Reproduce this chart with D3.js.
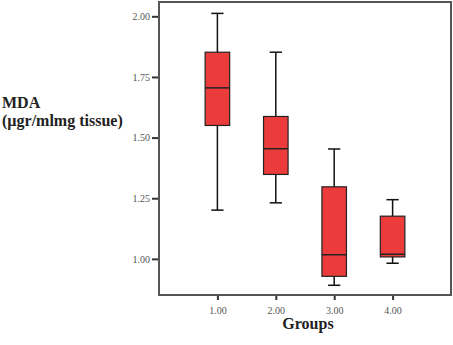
<!DOCTYPE html>
<html lang="en">
<head>
<meta charset="UTF-8">
<title>MDA boxplot</title>
<script src="https://cdn.jsdelivr.net/npm/d3@7/dist/d3.min.js"></script>
<style>
    body{margin:0;background:#fff;}
    svg{display:block;}
    .tick text{font-family:"Liberation Serif","DejaVu Serif",serif;font-size:10px;fill:#555;}
    .title{font-family:"Liberation Serif","DejaVu Serif",serif;font-size:16px;font-weight:bold;fill:#222;}
</style>
</head>
<body>
<svg width="453" height="345"></svg>
<script>
    // data
    var groups = [1, 2, 3, 4];
    var whiskerLow  = [1.201, 1.231, 0.891, 0.982];
    var q1          = [1.550, 1.348, 0.928, 1.008];
    var median      = [1.705, 1.454, 1.017, 1.019];
    var q3          = [1.852, 1.587, 1.297, 1.176];
    var whiskerHigh = [2.012, 1.852, 1.453, 1.244];
    var yTicks = [1.00, 1.25, 1.50, 1.75, 2.00];

    var svg = d3.select('svg'),
        margin = {top:2, right:2, bottom:50, left:159},
        width = +svg.attr('width') - margin.left - margin.right,
        height = +svg.attr('height') - margin.top - margin.bottom,
        g = svg.append('g').attr('transform','translate('+ margin.left +','+ margin.top +')');

    var x = d3.scaleLinear().domain([0,5]).range([0,width]);
    var y = d3.scaleLinear().domain([0.851,2.059]).range([height,0]);

    var boxW = x(0.42) - x(0),
        capW = x(0.21) - x(0);

    var data = groups.map(function(d,i){
        return {g:d, lo:whiskerLow[i], q1:q1[i], med:median[i], q3:q3[i], hi:whiskerHigh[i]};
    });

    // axes
    var yAxis = g.append('g')
        .call(d3.axisLeft(y).tickValues(yTicks).tickFormat(d3.format('.2f')).tickSize(7).tickPadding(2));
    var xAxis = g.append('g')
        .attr('transform','translate(0,'+ height +')')
        .call(d3.axisBottom(x).tickValues(groups).tickFormat(d3.format('.2f')).tickSize(5).tickPadding(7));
    [yAxis,xAxis].forEach(function(a){
        a.select('.domain').remove();
        a.selectAll('.tick line').attr('stroke','#333').attr('stroke-width',2);
    });

    // frame
    g.append('rect')
        .attr('x',0).attr('y',0)
        .attr('width',width).attr('height',height)
        .attr('fill','none').attr('stroke','#555').attr('stroke-width',2);

    var box = g.selectAll('.box').data(data).enter().append('g').attr('class','box');

    // whiskers
    box.append('line')
        .attr('x1',function(d){return x(d.g)}).attr('x2',function(d){return x(d.g)})
        .attr('y1',function(d){return y(d.lo)}).attr('y2',function(d){return y(d.hi)})
        .attr('stroke','#111').attr('stroke-width',1.5);
    ['lo','hi'].forEach(function(k){
        box.append('line')
            .attr('x1',function(d){return x(d.g) - capW/2}).attr('x2',function(d){return x(d.g) + capW/2})
            .attr('y1',function(d){return y(d[k])}).attr('y2',function(d){return y(d[k])})
            .attr('stroke','#111').attr('stroke-width',1.5);
    });

    // boxes
    box.append('rect')
        .attr('x',function(d){return x(d.g) - boxW/2})
        .attr('y',function(d){return y(d.q3)})
        .attr('width',boxW)
        .attr('height',function(d){return y(d.q1) - y(d.q3)})
        .attr('fill','#ec3b3b').attr('stroke','#222').attr('stroke-width',1.2);

    // medians
    box.append('line')
        .attr('x1',function(d){return x(d.g) - boxW/2}).attr('x2',function(d){return x(d.g) + boxW/2})
        .attr('y1',function(d){return y(d.med)}).attr('y2',function(d){return y(d.med)})
        .attr('stroke','#222').attr('stroke-width',1.5);

    // titles
    svg.append('text').attr('class','title')
        .attr('x',2).attr('y',108).text('MDA');
    svg.append('text').attr('class','title')
        .attr('x',2).attr('y',126).text('(\u00b5gr/mlmg tissue)');
    svg.append('text').attr('class','title')
        .attr('x',308).attr('y',329).attr('text-anchor','middle').text('Groups');
</script>
</body>
</html>
